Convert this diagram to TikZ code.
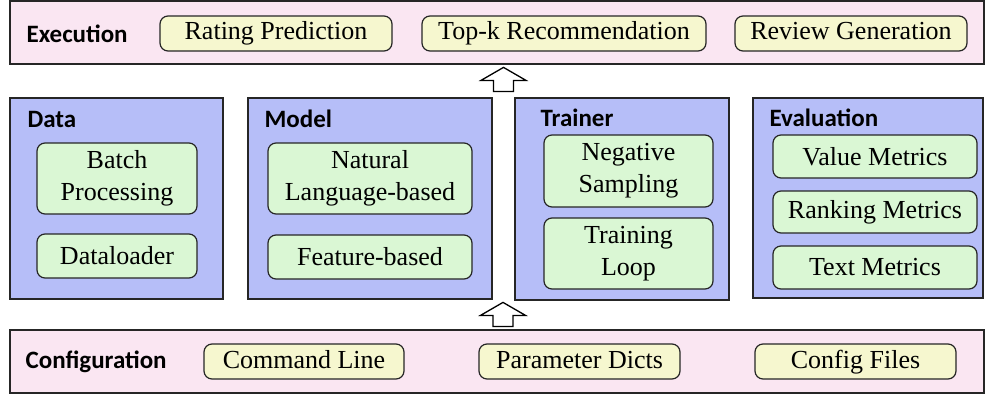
\documentclass[tikz,border=0pt]{standalone}
\usepackage{fontspec}
\setmainfont{Liberation Serif}
\newfontfamily\boxfont{Liberation Serif}
\newfontfamily\headfont{Carlito}
\usetikzlibrary{calc}
\definecolor{bandfill}{RGB}{250,230,242}
\definecolor{panelfill}{RGB}{182,190,248}
\definecolor{leaffill}{RGB}{218,247,212}
\definecolor{tagfill}{RGB}{246,247,207}
\definecolor{edge}{RGB}{38,38,38}
\tikzset{every picture/.style={line width=0.6pt}}
\begin{document}
\begin{tikzpicture}[x=0.5pt,y=-0.5pt,
band/.style={draw=edge,fill=bandfill,minimum width=487pt,minimum height=31.5pt},
panel/.style={draw=edge,fill=panelfill,minimum height=100.5pt},
leaf/.style={draw=edge,fill=leaffill,rounded corners=4pt,align=center,inner sep=0pt,
  font=\boxfont\fontsize{13}{16}\selectfont},
tag/.style={draw=edge,fill=tagfill,rounded corners=4pt,inner sep=0pt,minimum height=17.5pt,
  text height=0.7em,text depth=0.05em,font=\boxfont\fontsize{13}{16}\selectfont},
head/.style={anchor=west,inner sep=0pt,font=\headfont\bfseries\fontsize{12.5}{15}\selectfont},
pics/uparrow/.style={code={
  \draw[draw=black,fill=white,line width=0.65pt] (-10,0) -- (-10,-11) -- (-22.5,-11) -- (0,-24)
    -- (22.5,-11) -- (10,-11) -- (10,0) -- cycle;}}]
\useasboundingbox (0,0) rectangle (986,396);
% layers
\node (exec) [band] at (497,32.5) {};
\node (config) [band] at (497,361.5) {};
\node (data) [panel,minimum width=106.5pt] at (116.5,198.5) {};
\node (model) [panel,minimum width=122pt] at (370,198.5) {};
\node (trainer) [panel,minimum width=107pt,minimum height=101pt] at (622,199) {};
\node (eval) [panel,minimum width=115pt,minimum height=100pt] at (868,198) {};
% titles
\node (exect) [head] at (26,34) {Execution};
\node (conft) [head] at (25,362) {Configuration};
\node (datat) [head] at (27,119) {Data};
\node (modelt) [head] at (264,119) {Model};
\node (trainert) [head] at (540,118) {Trainer};
\node (evalt) [head] at (769,118) {Evaluation};
% execution tasks
\node (rating) [tag,minimum width=116pt] at (276,33.5) {Rating Prediction};
\node (topk) [tag,minimum width=142pt] at (564,33.5) {Top-k Recommendation};
\node (review) [tag,minimum width=116pt] at (851,33.5) {Review Generation};
% configuration sources
\node (cmd) [tag,minimum width=100pt] at (304,361.5) {Command Line};
\node (dicts) [tag,minimum width=100.5pt] at (579.5,361.5) {Parameter Dicts};
\node (files) [tag,minimum width=100.5pt] at (855.5,361.5) {Config Files};
% modules
\node (batch) [leaf,minimum width=80pt,minimum height=35.5pt] at (117,178.5) {Batch\\Processing};
\node (loader) [leaf,minimum width=80pt,minimum height=22pt] at (117,256) {Dataloader};
\node (nlb) [leaf,minimum width=102pt,minimum height=35.5pt] at (370,178.5) {Natural\\Language-based};
\node (feat) [leaf,minimum width=102pt,minimum height=22pt] at (370,257) {Feature-based};
\node (neg) [leaf,minimum width=84.5pt,minimum height=36pt] at (628.5,171) {Negative\\Sampling};
\node (loop) [leaf,minimum width=84.5pt,minimum height=35.5pt] at (628.5,253.5) {Training\\Loop};
\node (value) [leaf,minimum width=102pt,minimum height=21.5pt] at (875,156.5) {Value Metrics};
\node (rank) [leaf,minimum width=102pt,minimum height=21pt] at (875,212) {Ranking Metrics};
\node (text) [leaf,minimum width=102pt,minimum height=21.5pt] at (875,267.5) {Text Metrics};
% flow arrows
\pic at ($(model.north east)!0.5!(trainer.north west)+(0,-6)$) {uparrow};
\pic at ($(config.north)+(6,-3)$) {uparrow};
\end{tikzpicture}
\end{document}
